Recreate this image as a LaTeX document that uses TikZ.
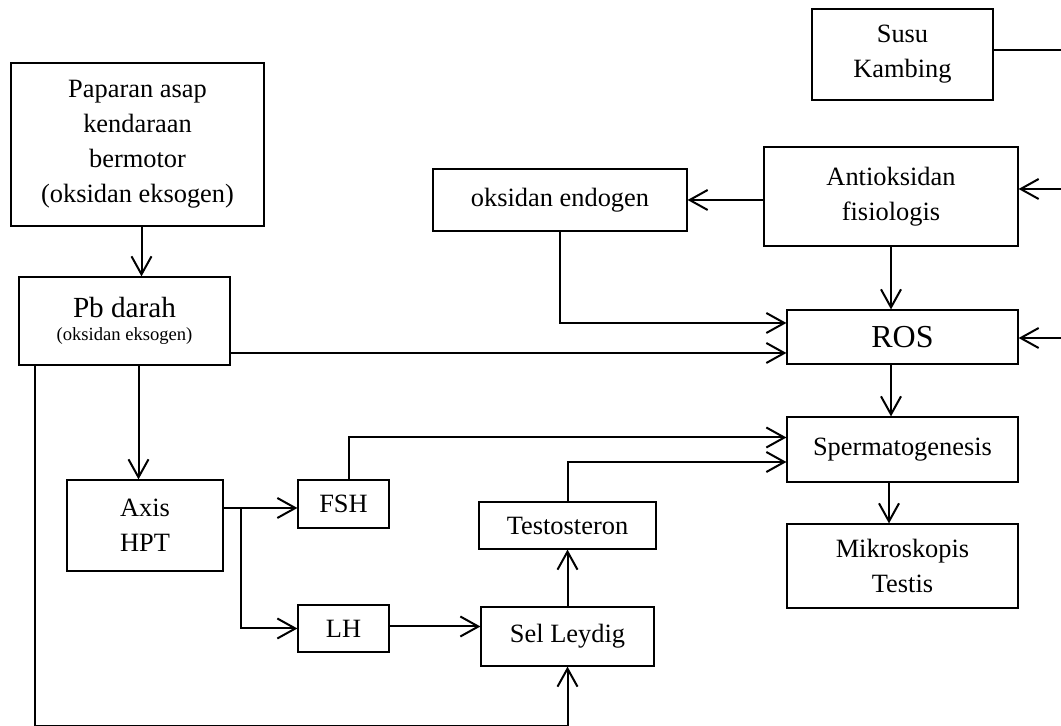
\documentclass[tikz,border=0pt]{standalone}
\usepackage{fontspec}
\setmainfont{Liberation Serif}
\usetikzlibrary{arrows.meta}

\begin{document}
\begin{tikzpicture}[
  x=0.5pt, y=-0.5pt,
  box/.style={
    draw, line width=0.6pt, align=center, inner sep=2pt,
    font=\fontsize{13.2}{17.5}\selectfont
  },
  arr/.style={
    -{Straight Barb[length=9pt,width=10pt]}, line width=1pt
  },
  link/.style={line width=1pt}
  ]
  \useasboundingbox (0,0) rectangle (1061,726);

  % boxes
  \node[box, minimum width=90.5pt, minimum height=45.5pt] (susu) at (902.5,54.5) {Susu\\Kambing};
  \node[box, minimum width=126.5pt, minimum height=81.5pt] (paparan) at (137.5,144.5)
    {Paparan asap\\kendaraan\\bermotor\\(oksidan eksogen)};
  \node[box, minimum width=105.5pt, minimum height=44pt,
    font=\fontsize{14.6}{11.5}\selectfont] (pb) at (124.5,321)
    {Pb darah\\{\fontsize{9.3}{11}\selectfont (oksidan eksogen)}};
  \node[box, minimum width=127pt, minimum height=31pt] (endogen) at (560,200) {oksidan endogen};
  \node[box, minimum width=127pt, minimum height=49.5pt] (antiok) at (891,196.5) {Antioksidan\\fisiologis};
  \node[box, minimum width=115.5pt, minimum height=27pt,
    font=\fontsize{16}{18}\selectfont] (ros) at (902.5,337) {ROS};
  \node[box, minimum width=115.5pt, minimum height=32.5pt] (sperm) at (902.5,449.5) {Spermatogenesis};
  \node[box, minimum width=115.5pt, minimum height=42pt] (mikro) at (902.5,566) {Mikroskopis\\Testis};
  \node[box, minimum width=78pt, minimum height=45.5pt] (axis) at (145,525.5) {Axis\\HPT};
  \node[box, minimum width=45.5pt, minimum height=24pt] (fsh) at (343.5,504) {FSH};
  \node[box, minimum width=45.5pt, minimum height=23.5pt] (lh) at (343.5,628.5) {LH};
  \node[box, minimum width=88.5pt, minimum height=23.5pt] (testo) at (567.5,525.5) {Testosteron};
  \node[box, minimum width=86.5pt, minimum height=29.5pt] (leydig) at (567.5,636.5) {Sel Leydig};

  % free ends at the right rim
  \coordinate (rim1) at (1061,50);
  \coordinate (rim2) at (1061,189);
  \coordinate (rim3) at (1061,338);

  % connectors
  \draw[arr] ([xshift=2pt]paparan.south) -- ([xshift=2pt]paparan.south |- pb.north);
  \draw[arr] ([yshift=-16pt]pb.east) -- ([yshift=-16pt]pb.east -| ros.west);
  \draw[arr] ([xshift=7pt]pb.south) -- ([xshift=7pt]pb.south |- axis.north);
  \draw[arr] ([xshift=-45pt]pb.south) -- ++(0,360) -| (leydig.south);
  \draw[arr] (endogen.south) |- ([yshift=7pt]ros.west);
  \draw[arr] (antiok.west |- endogen.east) -- (endogen.east);
  \draw[arr] (antiok.south) -- (antiok.south |- ros.north);
  \draw[arr] ([xshift=-5.75pt]ros.south) -- ([xshift=-5.75pt]ros.south |- sperm.north);
  \draw[arr] ([xshift=-6.75pt]sperm.south) -- ([xshift=-6.75pt]sperm.south |- mikro.north);
  \draw[arr] ([yshift=-2pt]fsh.west -| axis.east) -- ([yshift=-2pt]fsh.west);
  \draw[arr] ([yshift=-2pt]fsh.west -| axis.east) -- ++(17,0) |- (lh.west);
  \draw[arr] ([yshift=1pt]lh.east) -- ([yshift=1pt]lh.east -| leydig.west);
  \draw[arr] (leydig.north) -- (testo.south);
  \draw[arr] (testo.north) |- ([yshift=-6.25pt]sperm.west);
  \draw[arr] ([xshift=2.75pt]fsh.north) |- ([yshift=6pt]sperm.west);
  \draw[link] ([yshift=2.25pt]susu.east) -- (rim1);
  \draw[arr] (rim2) -- (rim2 -| antiok.east);
  \draw[arr] (rim3) -- (rim3 -| ros.east);
\end{tikzpicture}
\end{document}
